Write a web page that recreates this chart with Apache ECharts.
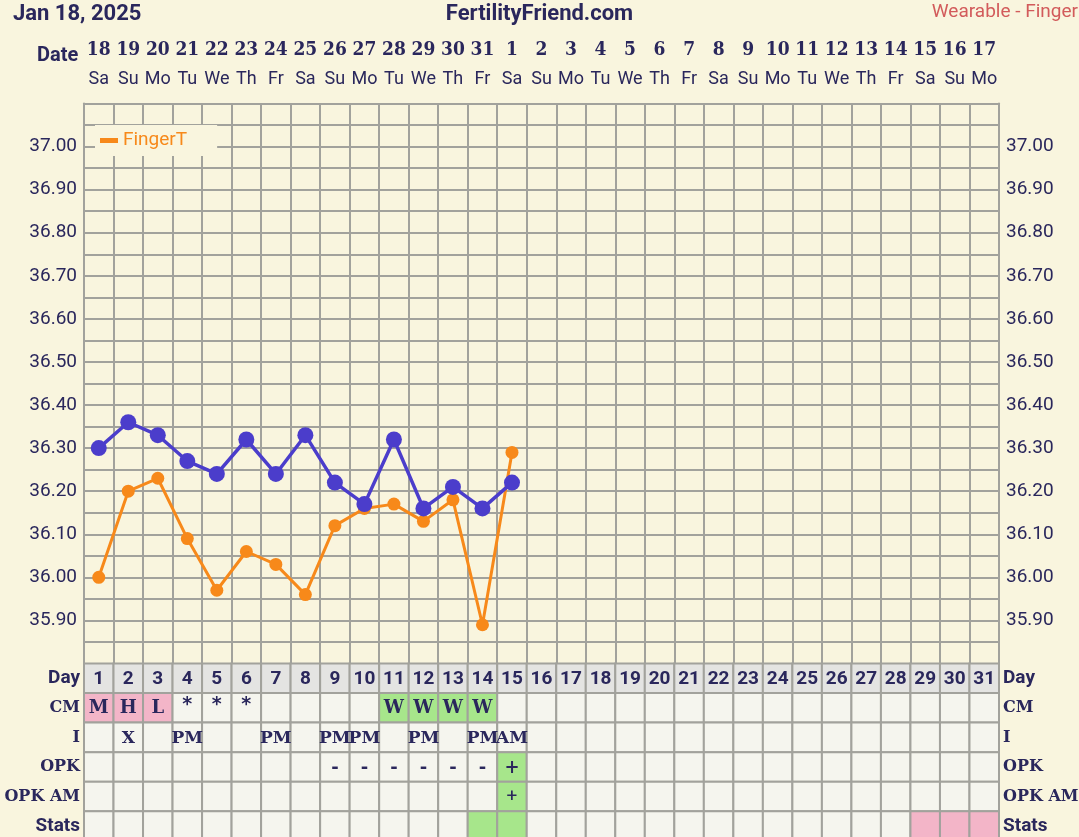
<!DOCTYPE html>
<html>
<head>
<meta charset="utf-8">
<script src="https://cdn.jsdelivr.net/npm/echarts@6/dist/echarts.min.js"></script>
<style>
  html, body { margin: 0; padding: 0; background: #f9f5de; }
  #chart { width: 1079px; height: 837px; }
</style>
</head>
<body>
<div id="chart"></div>
<script>
// calendar across the top
const dates = ['18', '19', '20', '21', '22', '23', '24', '25', '26', '27', '28', '29', '30', '31',
  '1', '2', '3', '4', '5', '6', '7', '8', '9', '10', '11', '12', '13', '14', '15', '16', '17'];
const weekdays = ['Sa', 'Su', 'Mo', 'Tu', 'We', 'Th', 'Fr', 'Sa', 'Su', 'Mo', 'Tu', 'We', 'Th', 'Fr',
  'Sa', 'Su', 'Mo', 'Tu', 'We', 'Th', 'Fr', 'Sa', 'Su', 'Mo', 'Tu', 'We', 'Th', 'Fr', 'Sa', 'Su', 'Mo'];

// temperatures (first 15 cycle days)
const fingerTemps = [36.00, 36.20, 36.23, 36.09, 35.97, 36.06, 36.03, 35.96, 36.12, 36.16, 36.17, 36.13, 36.18, 35.89, 36.29];
const bbtTemps = [36.30, 36.36, 36.33, 36.27, 36.24, 36.32, 36.24, 36.33, 36.22, 36.17, 36.32, 36.16, 36.21, 36.16, 36.22];

// table below the chart
const rowNames = ['Day', 'CM', 'I', 'OPK', 'OPK AM', 'Stats'];
const cycleDays = ['1', '2', '3', '4', '5', '6', '7', '8', '9', '10', '11', '12', '13', '14', '15', '16',
  '17', '18', '19', '20', '21', '22', '23', '24', '25', '26', '27', '28', '29', '30', '31'];
const cmMarks = ['M', 'H', 'L', '*', '*', '*', '', '', '', '', 'W', 'W', 'W', 'W'];
const intercourse = ['', 'X', '', 'PM', '', '', 'PM', '', 'PM', 'PM', '', 'PM', '', 'PM', 'AM'];
const opkMarks = ['', '', '', '', '', '', '', '', '-', '-', '-', '-', '-', '-', '+'];
const opkAmMarks = ['', '', '', '', '', '', '', '', '', '', '', '', '', '', '+'];
const statsMarks = ['', '', '', '', '', '', '', '', '', '', '', '', '', 'fertile', 'fertile',
  '', '', '', '', '', '', '', '', '', '', '', '', '', 'next', 'next', 'next'];

const INK = '#2a275c';
const GRID = '#a2a29c';
const BG = '#f9f5de';
const PINK = '#f3b5c8';
const GREEN = '#a7e68b';
const fillFor = { M: PINK, H: PINK, L: PINK, W: GREEN, '+': GREEN, fertile: GREEN, next: PINK };

const tableRows = [cycleDays, cmMarks, intercourse, opkMarks, opkAmMarks, statsMarks];
const cells = [];
tableRows.forEach((row, r) => {
  for (let c = 0; c < dates.length; c++) {
    cells.push({ c: c, r: r, mark: row[c] || '' });
  }
});
const cellData = cells.map(d => [d.c, d.r]);

function drawCell(params, api) {
  const cell = cells[params.dataIndex];
  const p = api.coord([api.value(0), api.value(1)]);
  const s = api.size([1, 1]);
  let fill = cell.r === 0 ? '#e4e4e2' : '#f5f5ee';
  if (cell.r > 0 && fillFor[cell.mark]) fill = fillFor[cell.mark];
  return {
    type: 'rect',
    shape: { x: p[0] - s[0] / 2, y: p[1] - s[1] / 2, width: s[0], height: s[1] },
    style: { fill: fill, stroke: GRID, lineWidth: 2 }
  };
}

function drawMark(params, api) {
  const cell = cells[params.dataIndex];
  if (!cell.mark || cell.r === 5) return null;
  const p = api.coord([api.value(0), api.value(1)]);
  let font = 'bold 18px "DejaVu Serif"';
  if (cell.r === 2) font = 'bold 17px "DejaVu Serif"';
  if (cell.r === 0) font = 'bold 19px Roboto';
  if (cell.r === 4) font = '19px Roboto';
  if (cell.mark === '*') font = 'bold 19px "DejaVu Sans"';
  return {
    type: 'text',
    style: {
      text: cell.mark, x: p[0], y: p[1] + (cell.mark === '*' ? -3 : 1),
      align: 'center', verticalAlign: 'middle', font: font, fill: INK
    }
  };
}

function tempLabel(v) {
  const k = Math.round(v * 100);
  if (k % 10 === 0 && k >= 3590 && k <= 3700) return (k / 100).toFixed(2);
  return '';
}

const rowRich = {
  s: { fontFamily: 'Roboto', fontWeight: 'bold', fontSize: 19, color: INK },
  f: { fontFamily: 'DejaVu Serif', fontWeight: 'bold', fontSize: 16, color: INK }
};
function rowLabel(v) {
  return (v === 'Day' || v === 'Stats') ? '{s|' + v + '}' : '{f|' + v + '}';
}

const tempAxis = {
  type: 'value', gridIndex: 0, min: 35.8, max: 37.1, interval: 0.05,
  axisLine: { show: true, lineStyle: { color: GRID, width: 2 } },
  axisTick: { show: false },
  axisLabel: {
    formatter: tempLabel, color: INK, fontFamily: 'Roboto', fontSize: 19,
    margin: 7, padding: [0, 0, 5, 0]
  }
};

const chart = echarts.init(document.getElementById('chart'), null, { renderer: 'canvas' });
chart.setOption({
  backgroundColor: BG,
  animation: false,
  graphic: [
    { type: 'text', left: 13, top: 3, style: { text: 'Jan 18, 2025', font: 'bold 22px Roboto', fill: INK } },
    { type: 'text', left: 'center', top: 3, style: { text: 'FertilityFriend.com', font: 'bold 22px Roboto', fill: INK } },
    { type: 'text', right: 1, top: 3, style: { text: 'Wearable - Finger', font: '19px Roboto', fill: '#d25b5b' } },
    { type: 'text', left: 37, top: 46, style: { text: 'Date', font: 'bold 20px Roboto', fill: INK } }
  ],
  legend: {
    data: ['FingerT'],
    left: 95, top: 125,
    backgroundColor: BG,
    padding: [6, 30, 6, 5],
    icon: 'rect', itemWidth: 18, itemHeight: 5, itemGap: 4,
    textStyle: { color: '#f7891a', fontFamily: 'Roboto', fontSize: 19 }
  },
  grid: [
    { left: 84, top: 103.5, width: 915, height: 560, outerBoundsMode: 'none' },
    { left: 84, top: 663.5, width: 915, height: 177.3, outerBoundsMode: 'none' }
  ],
  xAxis: [
    {
      type: 'category', gridIndex: 0, position: 'top', data: dates, boundaryGap: true,
      axisLine: { show: true, lineStyle: { color: GRID, width: 2 } },
      axisTick: { show: false },
      splitLine: { show: true, interval: 0, lineStyle: { color: GRID, width: 2 } },
      axisLabel: {
        interval: 0, margin: 10,
        formatter: (v, i) => '{d|' + v + '}\n{w|' + weekdays[i] + '}',
        rich: {
          d: { fontFamily: '"DejaVu Serif Condensed", "DejaVu Serif"', fontWeight: 'bold', fontSize: 19, color: INK, lineHeight: 29 },
          w: { fontFamily: 'Roboto', fontSize: 18, color: INK, lineHeight: 29 }
        }
      }
    },
    {
      type: 'category', gridIndex: 1, data: cycleDays, boundaryGap: true,
      axisLine: { show: false }, axisTick: { show: false }, axisLabel: { show: false }
    }
  ],
  yAxis: [
    Object.assign({}, tempAxis, {
      position: 'left',
      splitLine: { show: true, lineStyle: { color: GRID, width: 2 } }
    }),
    Object.assign({}, tempAxis, { position: 'right', splitLine: { show: false } }),
    {
      type: 'category', gridIndex: 1, data: rowNames, inverse: true, position: 'left',
      axisLine: { show: false }, axisTick: { show: false },
      axisLabel: { interval: 0, margin: 4, formatter: rowLabel, rich: rowRich }
    },
    {
      type: 'category', gridIndex: 1, data: rowNames, inverse: true, position: 'right',
      axisLine: { show: false }, axisTick: { show: false },
      axisLabel: { interval: 0, margin: 4, formatter: rowLabel, rich: rowRich }
    }
  ],
  series: [
    {
      name: 'FingerT', type: 'line', xAxisIndex: 0, yAxisIndex: 0, data: fingerTemps,
      color: '#f7891a', symbol: 'circle', symbolSize: 13,
      lineStyle: { width: 3 }, z: 3
    },
    {
      name: 'BBT', type: 'line', xAxisIndex: 0, yAxisIndex: 0, data: bbtTemps,
      color: '#4b3dcb', symbol: 'circle', symbolSize: 16,
      lineStyle: { width: 3.5 }, z: 4
    },
    {
      type: 'custom', xAxisIndex: 1, yAxisIndex: 2, data: cellData,
      renderItem: drawCell, silent: true, z: 2
    },
    {
      type: 'custom', xAxisIndex: 1, yAxisIndex: 2, data: cellData,
      renderItem: drawMark, silent: true, z: 3
    }
  ]
});
</script>
</body>
</html>
